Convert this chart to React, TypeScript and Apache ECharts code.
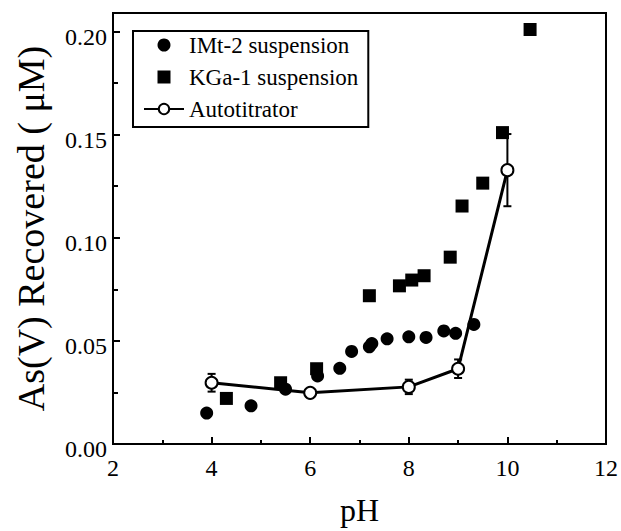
import React, { useEffect, useRef } from "react";
import * as echarts from "echarts";

const imt2: number[][] = [
  [3.9, 0.015], [4.8, 0.0185], [5.5, 0.0266], [6.15, 0.033], [6.6, 0.0367],
  [6.84, 0.0449], [7.2, 0.0471], [7.25, 0.0487], [7.56, 0.051], [8.0, 0.052],
  [8.35, 0.0517], [8.71, 0.0548], [8.95, 0.0537], [9.32, 0.058],
];
const kga1: number[][] = [
  [4.3, 0.0221], [5.4, 0.0297], [6.13, 0.0365], [7.2, 0.0719], [7.81, 0.0767],
  [8.06, 0.0795], [8.31, 0.0816], [8.84, 0.0906], [9.08, 0.1154], [9.5, 0.1265],
  [9.9, 0.151], [10.46, 0.201],
];
const autoPH: number[] = [4, 6, 8, 9, 10];
const autoVal: number[] = [0.0297, 0.0248, 0.0277, 0.0365, 0.1328];
const autoErr: number[] = [0.0043, 0, 0.0035, 0.0045, 0.0175];
const xTicks = [2, 4, 6, 8, 10, 12];
const yTicks = [0, 0.05, 0.1, 0.15, 0.2];

const FONT = "'Liberation Serif', 'Times New Roman', serif";

export default function App() {
  const ref = useRef<HTMLDivElement>(null);
  useEffect(() => {
    if (!ref.current) return;
    const chart = echarts.init(ref.current, undefined, { renderer: "svg" });
    const autoData = autoPH.map((x, i) => [x, autoVal[i]]);
    const errData = autoPH.map((x, i) => [x, autoVal[i], autoErr[i]]);
    chart.setOption({
      animation: false,
      backgroundColor: "#fff",
      textStyle: { fontFamily: FONT },
      grid: { left: 113, right: 13, top: 13, bottom: 78, show: true, borderColor: "#000", borderWidth: 2 },
      legend: {
        orient: "vertical",
        left: 133,
        top: 31,
        width: 236,
        height: 96,
        padding: [2, 10, 6, 10],
        itemGap: 8,
        itemWidth: 40,
        itemHeight: 13,
        borderColor: "#000",
        borderWidth: 2,
        textStyle: { fontFamily: FONT, fontSize: 23, color: "#000", lineHeight: 24 },
        data: [
          { name: "IMt-2 suspension", icon: "circle", itemStyle: { color: "#000", opacity: 1 } },
          { name: "KGa-1 suspension", icon: "path://M0 0H10V10H0Z", itemStyle: { color: "#000", opacity: 1 } },
          { name: "Autotitrator" },
        ],
      },
      xAxis: {
        type: "value",
        min: xTicks[0],
        max: xTicks[xTicks.length - 1],
        interval: 2,
        name: "pH",
        nameLocation: "middle",
        nameGap: 50,
        nameTextStyle: { fontFamily: FONT, fontSize: 32, color: "#000" },
        axisLine: { show: true, lineStyle: { color: "#000", width: 2 } },
        axisTick: { show: true, inside: true, length: 7, lineStyle: { color: "#000", width: 2 } },
        minorTick: { show: true, splitNumber: 2, length: 4, lineStyle: { color: "#000", width: 2 } },
        splitLine: { show: false },
        axisLabel: { fontFamily: FONT, fontSize: 24, color: "#000", margin: 12 },
      },
      yAxis: {
        type: "value",
        min: yTicks[0],
        max: 0.209,
        interval: 0.05,
        name: "As(V) Recovered ( \u03bcM)",
        nameLocation: "middle",
        nameRotate: 90,
        nameGap: 63,
        nameTextStyle: { fontFamily: FONT, fontSize: 38, color: "#000" },
        axisLine: { show: true, lineStyle: { color: "#000", width: 2 } },
        axisTick: { show: true, inside: true, length: 7, lineStyle: { color: "#000", width: 2 } },
        minorTick: { show: true, splitNumber: 2, length: 5, lineStyle: { color: "#000", width: 2 } },
        splitLine: { show: false },
        axisLabel: {
          fontFamily: FONT,
          fontSize: 24,
          color: "#000",
          margin: 6,
          showMaxLabel: false,
          verticalAlign: "top",
          lineHeight: 10,
          formatter: (v: number) => (yTicks.some((t) => Math.abs(t - v) < 1e-9) ? v.toFixed(2) : ""),
        },
      },
      series: [
        {
          name: "IMt-2 suspension",
          type: "scatter",
          symbol: "circle",
          symbolSize: 13,
          itemStyle: { color: "#000", opacity: 1 },
          data: imt2,
          z: 2,
        },
        {
          name: "KGa-1 suspension",
          type: "scatter",
          symbol: "rect",
          symbolSize: 13,
          itemStyle: { color: "#000", opacity: 1 },
          data: kga1,
          z: 2,
        },
        {
          name: "errors",
          type: "custom",
          z: 3,
          data: errData,
          renderItem: (params: any, api: any) => {
            const x = api.value(0);
            const y = api.value(1);
            const e = api.value(2);
            if (!e) return { type: "group", children: [] };
            const top = api.coord([x, y + e]);
            const bot = api.coord([x, y - e]);
            const st = { stroke: "#000", lineWidth: 2 };
            return {
              type: "group",
              children: [
                { type: "line", shape: { x1: top[0], y1: top[1], x2: bot[0], y2: bot[1] }, style: st },
                { type: "line", shape: { x1: top[0] - 4, y1: top[1], x2: top[0] + 4, y2: top[1] }, style: st },
                { type: "line", shape: { x1: bot[0] - 4, y1: bot[1], x2: bot[0] + 4, y2: bot[1] }, style: st },
              ],
            };
          },
        },
        {
          name: "Autotitrator",
          type: "line",
          symbol: "emptyCircle",
          symbolSize: 12,
          showAllSymbol: true,
          itemStyle: { color: "#000", borderWidth: 2.5 },
          lineStyle: { color: "#000", width: 3 },
          data: autoData,
          z: 4,
        },
      ],
    });
    return () => chart.dispose();
  }, []);
  return <div ref={ref} style={{ width: 621, height: 531, position: "absolute", left: 0, top: 0 }} />;
}
